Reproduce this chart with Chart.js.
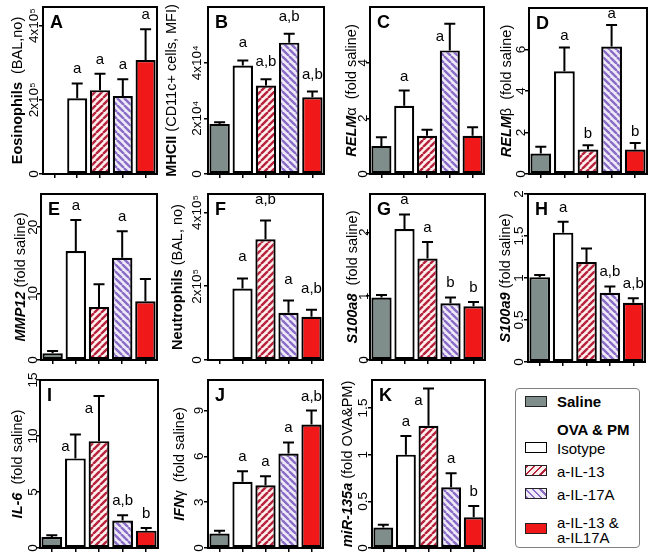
<!DOCTYPE html>
<html>
<head>
<meta charset="utf-8">
<script src="https://cdn.jsdelivr.net/npm/chart.js@4.4.1/dist/chart.umd.min.js"></script>
<style>
  body { margin: 0; background: #fff; width: 650px; height: 556px; position: relative; overflow: hidden;
         font-family: "Liberation Sans", Arial, sans-serif; }
  canvas { position: absolute; }
  #legend { position: absolute; left: 515px; top: 388px; width: 125px; height: 160px; box-sizing: border-box;
            border: 1px solid #808080; border-radius: 4px; }
  .sw { position: absolute; left: 9px; width: 22px; height: 11px; box-sizing: border-box; border: 1px solid #222; }
  .lt { position: absolute; left: 41px; font-size: 15px; line-height: 15px; color: #000; white-space: nowrap; }
</style>
</head>
<body>
<div id="legend">
  <div class="sw" style="top:7px;background:#7f8e8b"></div>
  <div class="lt" style="top:5px;font-weight:bold">Saline</div>
  <div class="lt" style="top:33px;font-weight:bold">OVA &amp; PM</div>
  <div class="sw" style="top:53px;background:#fff;border:1.5px solid #000"></div>
  <div class="lt" style="top:52px">Isotype</div>
  <div class="sw" style="top:76px;background:repeating-linear-gradient(135deg,#b8233c 0 2px,#fff0f0 2px 5px)"></div>
  <div class="lt" style="top:75px">a-IL-13</div>
  <div class="sw" style="top:99px;background:repeating-linear-gradient(45deg,#8a6cc6 0 2px,#efeaf8 2px 5px)"></div>
  <div class="lt" style="top:98px">a-IL-17A</div>
  <div class="sw" style="top:134px;background:#f01818"></div>
  <div class="lt" style="top:126px">a-IL-13 &amp;<br>a-IL17A</div>
</div>
<script>
const FONT = '"Liberation Sans", Arial, sans-serif';

// groups, same order in every panel
const groups = ['Saline', 'Isotype', 'a-IL-13', 'a-IL-17A', 'a-IL-13 & a-IL17A'];

// A eosinophils
const eosMean = [0.02e5, 2.04e5, 2.26e5, 2.10e5, 3.07e5];
const eosSem = [0, 0.40e5, 0.44e5, 0.45e5, 0.83e5];
const eosSig = ['', 'a', 'a', 'a', 'a'];
const eosTicks = [0, 2e5, 4e5];
const eosTickLabels = ['0', '2x10⁵', '4x10⁵'];

// B MHCII
const mhcMean = [1.80e4, 3.90e4, 3.18e4, 4.72e4, 2.76e4];
const mhcSem = [0.06e4, 0.18e4, 0.22e4, 0.32e4, 0.20e4];
const mhcSig = ['', 'a', 'a,b', 'a,b', 'a,b'];
const mhcTicks = [0, 2e4, 4e4];
const mhcTickLabels = ['0', '2x10⁴', '4x10⁴'];

// C RELMa
const relmaMean = [1.01, 2.45, 1.37, 4.44, 1.37];
const relmaSem = [0.31, 0.55, 0.22, 0.96, 0.31];
const relmaSig = ['', 'a', '', 'a', ''];
const relmaTicks = [0, 2, 4];

// D RELMb
const relmbMean = [0.99, 4.95, 1.18, 6.14, 1.18];
const relmbSem = [0.32, 1.15, 0.21, 1.04, 0.32];
const relmbSig = ['', 'a', 'b', 'a', 'b'];
const relmbTicks = [0, 2, 4, 6];

// E MMP12
const mmpMean = [1.0, 16.4, 8.0, 15.4, 8.85];
const mmpSem = [0.35, 4.7, 3.4, 4.0, 3.35];
const mmpSig = ['', 'a', '', 'a', ''];
const mmpTicks = [0, 10, 20];

// F neutrophils
const neuMean = [0.02e5, 1.94e5, 3.27e5, 1.28e5, 1.17e5];
const neuSem = [0, 0.27e5, 0.51e5, 0.33e5, 0.19e5];
const neuSig = ['', 'a', 'a,b', 'a', 'a,b'];
const neuTicks = [0, 2e5, 4e5];
const neuTickLabels = ['0', '2x10⁵', '4x10⁵'];

// G S100a8
const s8Mean = [0.98, 2.05, 1.59, 0.89, 0.84];
const s8Sem = [0.04, 0.23, 0.26, 0.09, 0.07];
const s8Sig = ['', 'a', 'a', 'b', 'b'];
const s8Ticks = [0, 1, 2];

// H S100a9
const s9Mean = [1.01, 1.54, 1.19, 0.825, 0.706];
const s9Sem = [0.025, 0.13, 0.16, 0.075, 0.054];
const s9Sig = ['', 'a', '', 'a,b', 'a,b'];
const s9Ticks = [0, 0.5, 1, 1.5, 2];

// I IL-6
const il6Mean = [0.98, 8.0, 9.54, 2.45, 1.55];
const il6Sem = [0.15, 2.14, 4.03, 0.47, 0.24];
const il6Sig = ['', 'a', 'a', 'a,b', 'b'];
const il6Ticks = [0, 5, 10, 15];

// J IFNg
const ifnMean = [0.95, 4.33, 4.11, 6.19, 8.08];
const ifnSem = [0.18, 0.70, 0.59, 0.72, 0.92];
const ifnSig = ['', 'a', 'a', 'a', 'a,b'];
const ifnTicks = [0, 3, 6, 9];

// K miR-135a
const mirMean = [0.22, 1.0, 1.31, 0.65, 0.33];
const mirSem = [0.03, 0.20, 0.40, 0.15, 0.12];
const mirSig = ['', 'a', 'a', 'a', 'b'];
const mirTicks = [0, 0.5, 1, 1.5];

function hatch(color, bg, dir) {
  const c = document.createElement('canvas');
  c.width = c.height = 7;
  const g = c.getContext('2d');
  g.fillStyle = bg;
  g.fillRect(0, 0, 7, 7);
  g.strokeStyle = color;
  g.lineWidth = 2.4;
  g.beginPath();
  for (let k = -1; k <= 1; k++) {
    if (dir === '/') { g.moveTo(k * 7, 7); g.lineTo(k * 7 + 7, 0); }
    else { g.moveTo(k * 7, 0); g.lineTo(k * 7 + 7, 7); }
  }
  g.stroke();
  return g.createPattern(c, 'repeat');
}

const fills = ['#7f8e8b', '#ffffff', hatch('#b8233c', '#fff0f0', '/'), hatch('#8a6cc6', '#efeaf8', '\\'), '#f01818'];

const B = 'bold', BI = 'italic bold', N = '';
const panels = [
  {id: 'A', box: [43, 7, 157, 174], mean: eosMean, sem: eosSem, sig: eosSig, max: 4.5e5, ticks: eosTicks, labels: eosTickLabels,
   title: [['Eosinophils', B], ['  (BAL,no)', N]], tOff: 25, gap: 9},
  {id: 'B', box: [208, 7, 324, 174], mean: mhcMean, sem: mhcSem, sig: mhcSig, max: 6e4, ticks: mhcTicks, labels: mhcTickLabels,
   title: [['MHCII', B], [' (CD11c+ cells, MFI)', N]], tOff: 36, gap: 11, lift: 13},
  {id: 'C', box: [370, 7, 484, 174], mean: relmaMean, sem: relmaSem, sig: relmaSig, max: 6, ticks: relmaTicks,
   title: [['RELM', BI], ['α', N], ['  (fold saline)', N]], tOff: 18, gap: 7, left: [3]},
  {id: 'D', box: [529, 8, 647, 174], mean: relmbMean, sem: relmbSem, sig: relmbSig, max: 8, ticks: relmbTicks,
   title: [['RELM', BI], ['β', N], ['  (fold saline)', N]], tOff: 22, gap: 8, lift: 7},
  {id: 'E', box: [41, 194, 157, 360], mean: mmpMean, sem: mmpSem, sig: mmpSig, max: 25, ticks: mmpTicks,
   title: [['MMP12', BI], [' (fold saline)', N]], tOff: 20, gap: 8},
  {id: 'F', box: [208, 194, 323, 360], mean: neuMean, sem: neuSem, sig: neuSig, max: 4.5e5, ticks: neuTicks, labels: neuTickLabels,
   title: [['Neutrophils', B], [' (BAL, no)', N]], tOff: 30, gap: 11, lift: 17},
  {id: 'G', box: [370, 194, 485, 360], mean: s8Mean, sem: s8Sem, sig: s8Sig, max: 2.6, ticks: s8Ticks,
   title: [['S100a8', BI], ['  (fold saline)', N]], tOff: 17, gap: 6},
  {id: 'H', box: [528, 194, 645, 362], mean: s9Mean, sem: s9Sem, sig: s9Sig, max: 2, ticks: s9Ticks,
   title: [['S100a9', BI], [' (fold saline)', N]], tOff: 22, gap: 9},
  {id: 'I', box: [40, 380, 158, 548], mean: il6Mean, sem: il6Sem, sig: il6Sig, max: 15, ticks: il6Ticks,
   title: [['IL-6', BI], ['  (fold saline)', N]], tOff: 22, gap: 7, left: [1, 2]},
  {id: 'J', box: [208, 380, 323, 548], mean: ifnMean, sem: ifnSem, sig: ifnSig, max: 11, ticks: ifnTicks,
   title: [['IFN', BI], ['γ', N], ['  (fold saline)', N]], tOff: 28, gap: 9},
  {id: 'K', box: [372, 380, 485, 548], mean: mirMean, sem: mirSem, sig: mirSig, max: 1.8, ticks: mirTicks,
   title: [['miR-135a', BI], [' (fold OVA&PM)', N]], tOff: 24, gap: 9, left: [2]}
];

const TICK_SIZE = 13.5;
const mctx = document.createElement('canvas').getContext('2d');
function widest(labels, font) {
  mctx.font = font;
  return Math.max(...labels.map(l => mctx.measureText(l).width));
}

function decor(p) {
  return {
    id: 'decor' + p.id,
    afterDatasetsDraw(chart) {
      const {ctx, scales: {y}} = chart;
      const bars = chart.getDatasetMeta(0).data;
      ctx.save();
      ctx.strokeStyle = '#000';
      ctx.lineWidth = 2;
      bars.forEach((bar, i) => {
        if (!p.sem[i]) return;
        const yt = y.getPixelForValue(p.mean[i] + p.sem[i]);
        ctx.beginPath();
        ctx.moveTo(bar.x, bar.y);
        ctx.lineTo(bar.x, yt);
        ctx.moveTo(bar.x - 5.5, yt);
        ctx.lineTo(bar.x + 5.5, yt);
        ctx.stroke();
      });
      ctx.fillStyle = '#000';
      ctx.font = '15px ' + FONT;
      ctx.textAlign = 'center';
      ctx.textBaseline = 'alphabetic';
      bars.forEach((bar, i) => {
        if (!p.sig[i]) return;
        const yt = y.getPixelForValue(p.mean[i] + p.sem[i]);
        if (p.left && p.left.includes(i)) ctx.fillText(p.sig[i], bar.x - 10, yt + 17);
        else ctx.fillText(p.sig[i], bar.x, yt - (p.lift || 10));
      });
      ctx.restore();
    },
    afterDraw(chart) {
      const {ctx, chartArea: a} = chart;
      ctx.save();
      ctx.strokeStyle = '#000';
      ctx.lineWidth = 2;
      ctx.strokeRect(a.left, a.top, a.right - a.left, a.bottom - a.top);
      ctx.fillStyle = '#000';
      ctx.font = 'bold 18px ' + FONT;
      ctx.textAlign = 'left';
      ctx.textBaseline = 'alphabetic';
      ctx.fillText(p.id, a.left + 7, a.top + 21);
      // rotated axis title with mixed styles
      ctx.translate(a.left - p.tOff, (a.top + a.bottom) / 2);
      ctx.rotate(-Math.PI / 2);
      ctx.textBaseline = 'middle';
      const parts = p.title.map(([t, s]) => ({t, f: (s ? s + ' ' : '') + '14.5px ' + FONT}));
      let total = 0;
      parts.forEach(q => { ctx.font = q.f; q.w = ctx.measureText(q.t).width; total += q.w; });
      let x = -total / 2;
      parts.forEach(q => { ctx.font = q.f; ctx.fillText(q.t, x, 0); x += q.w; });
      ctx.restore();
    }
  };
}

panels.forEach(p => {
  const [l, t, r, b] = p.box;
  const labels = p.labels || p.ticks.map(String);
  const cv = document.createElement('canvas');
  cv.width = r - l + 58;
  cv.height = b - t + 26;
  cv.style.left = (l - 52) + 'px';
  cv.style.top = (t - 14) + 'px';
  document.body.appendChild(cv);
  const pad = p.gap - 4 - widest(labels, TICK_SIZE + 'px ' + FONT) / 2;

  new Chart(cv, {
    type: 'bar',
    data: {
      labels: groups,
      datasets: [{
        data: p.mean,
        backgroundColor: fills,
        borderColor: '#000',
        borderWidth: 2.2,
        borderSkipped: false,
        barPercentage: 0.88,
        categoryPercentage: 1
      }]
    },
    options: {
      responsive: false,
      animation: false,
      events: [],
      devicePixelRatio: 1,
      layout: {padding: {left: 2, top: 14, right: 6, bottom: 2}},
      plugins: {legend: {display: false}, tooltip: {enabled: false}},
      scales: {
        x: {
          grid: {offset: false, drawOnChartArea: false, tickLength: 4, color: '#000', lineWidth: 1.5},
          border: {color: '#000', width: 2},
          ticks: {display: false},
          afterFit: s => { s.height = 10; }
        },
        y: {
          min: 0,
          max: p.max,
          afterBuildTicks: s => { s.ticks = p.ticks.map(v => ({value: v})); },
          afterFit: s => { s.width = 50; },
          grid: {drawOnChartArea: false, tickLength: 4, color: '#000', lineWidth: 1.5},
          border: {color: '#000', width: 2},
          ticks: {
            callback: (v, i) => labels[i],
            minRotation: 90, maxRotation: 90, crossAlign: 'center', padding: pad,
            color: '#000', font: {family: FONT, size: TICK_SIZE}
          }
        }
      }
    },
    plugins: [decor(p)]
  });
});
</script>
</body>
</html>
